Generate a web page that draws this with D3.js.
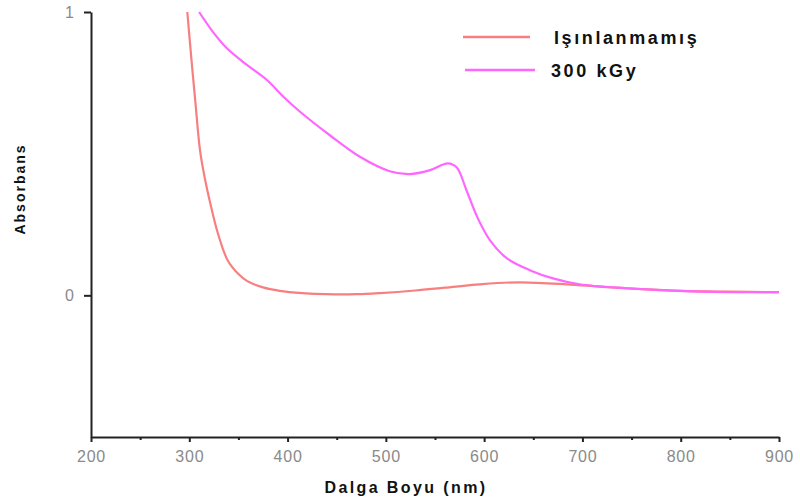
<!DOCTYPE html>
<html><head><meta charset="utf-8">
<script src="https://cdn.jsdelivr.net/npm/d3@7"></script>
<style>body{margin:0;background:#fff}svg{display:block}</style>
</head><body>
<script>
const seriesNames = ["Işınlanmamış", "300 kGy"];
const seriesColors = ["#f87f7f", "#ff66ff"];
const wlUnirr = [298, 302, 306, 311, 316, 321, 329, 339, 350, 359, 375, 392, 415, 440, 470, 494, 530, 560, 596, 636, 684, 720, 760, 800, 850, 900];
const absUnirr = [1.0, 0.84, 0.69, 0.51, 0.41, 0.33, 0.22, 0.124, 0.075, 0.05, 0.028, 0.016, 0.008, 0.004, 0.004, 0.008, 0.017, 0.027, 0.039, 0.046, 0.039, 0.03, 0.022, 0.016, 0.013, 0.011];
const wl300 = [310, 324, 338, 358, 379, 396, 413, 443, 474, 504, 524, 545, 563, 572, 582, 593, 606, 623, 647, 670, 697, 745, 812, 900];
const abs300 = [1.0, 0.93, 0.873, 0.815, 0.76, 0.70, 0.647, 0.565, 0.488, 0.438, 0.428, 0.442, 0.466, 0.452, 0.371, 0.276, 0.194, 0.131, 0.088, 0.06, 0.039, 0.025, 0.014, 0.011];
const xMajorTicks = [200, 300, 400, 500, 600, 700, 800, 900];
const xMinorTicks = [250, 350, 450, 550, 650, 750, 850];
const yTicks = [0, 1];
const xTitle = "Dalga Boyu (nm)";
const yTitle = "Absorbans";

const W = 800, H = 499;
const FONT = "Liberation Sans, Arial, sans-serif";
const svg = d3.select("body").append("svg").attr("width", W).attr("height", H);
const x = d3.scaleLinear().domain([200, 900]).range([91, 779]);
const y = d3.scaleLinear().domain([-0.5, 1]).range([437, 12]);

// data lines
const series = [
  wlUnirr.map((w, i) => [w, absUnirr[i]]),
  wl300.map((w, i) => [w, abs300[i]])
];
const line = d3.line().x(d => x(d[0])).y(d => y(d[1])).curve(d3.curveCatmullRom.alpha(0.5));
series.forEach((s, i) => {
  svg.append("path").datum(s).attr("d", line)
    .attr("fill", "none").attr("stroke", seriesColors[i]).attr("stroke-width", 2.2);
});

// x axis
const gx = svg.append("g").attr("transform", `translate(0,${y(-0.5)})`);
gx.call(d3.axisBottom(x).tickValues(xMajorTicks).tickSize(5).tickSizeOuter(0).tickFormat(d3.format("d")));
gx.append("g").call(d3.axisBottom(x).tickValues(xMinorTicks).tickSize(3).tickSizeOuter(0).tickFormat(""))
  .select(".domain").remove();
gx.selectAll(".domain").attr("stroke", "#222").attr("stroke-width", 2);
gx.selectAll(".tick line").attr("stroke", "#222").attr("stroke-width", 2);
gx.selectAll(".tick text").attr("fill", "#8a8a8a").attr("font-family", FONT)
  .attr("font-size", 16).attr("letter-spacing", 0.8).attr("y", 10).attr("dy", "0.95em");

// y axis
const gy = svg.append("g").attr("transform", `translate(${x(200)},0)`);
gy.call(d3.axisLeft(y).tickValues(yTicks).tickSize(7).tickSizeOuter(0).tickFormat(d3.format("d")));
gy.selectAll(".domain").attr("stroke", "#222").attr("stroke-width", 2);
gy.selectAll(".tick line").attr("stroke", "#222").attr("stroke-width", 2);
gy.selectAll(".tick text").attr("fill", "#8a8a8a").attr("font-family", FONT)
  .attr("font-size", 16).attr("x", -17);

// titles
svg.append("text").attr("x", 406).attr("y", 493).attr("text-anchor", "middle")
  .attr("font-family", FONT).attr("font-weight", "bold")
  .attr("font-size", 16).attr("letter-spacing", 2.4).attr("fill", "#111").text(xTitle);
svg.append("text").attr("transform", "translate(25,189) rotate(-90)").attr("text-anchor", "middle")
  .attr("font-family", FONT).attr("font-weight", "bold")
  .attr("font-size", 14).attr("letter-spacing", 2).attr("fill", "#111").text(yTitle);

// legend
const legY = [37, 70];
const legX1 = [463, 465], legX2 = [530, 535], legTx = [554, 551];
seriesNames.forEach((n, i) => {
  svg.append("line").attr("x1", legX1[i]).attr("x2", legX2[i]).attr("y1", legY[i]).attr("y2", legY[i])
    .attr("stroke", seriesColors[i]).attr("stroke-width", 2.5);
  svg.append("text").attr("x", legTx[i]).attr("y", legY[i] + 7)
    .attr("font-family", FONT).attr("font-weight", "bold")
    .attr("font-size", 18).attr("letter-spacing", 2.6).attr("fill", "#111").text(n);
});
</script>
</body></html>
